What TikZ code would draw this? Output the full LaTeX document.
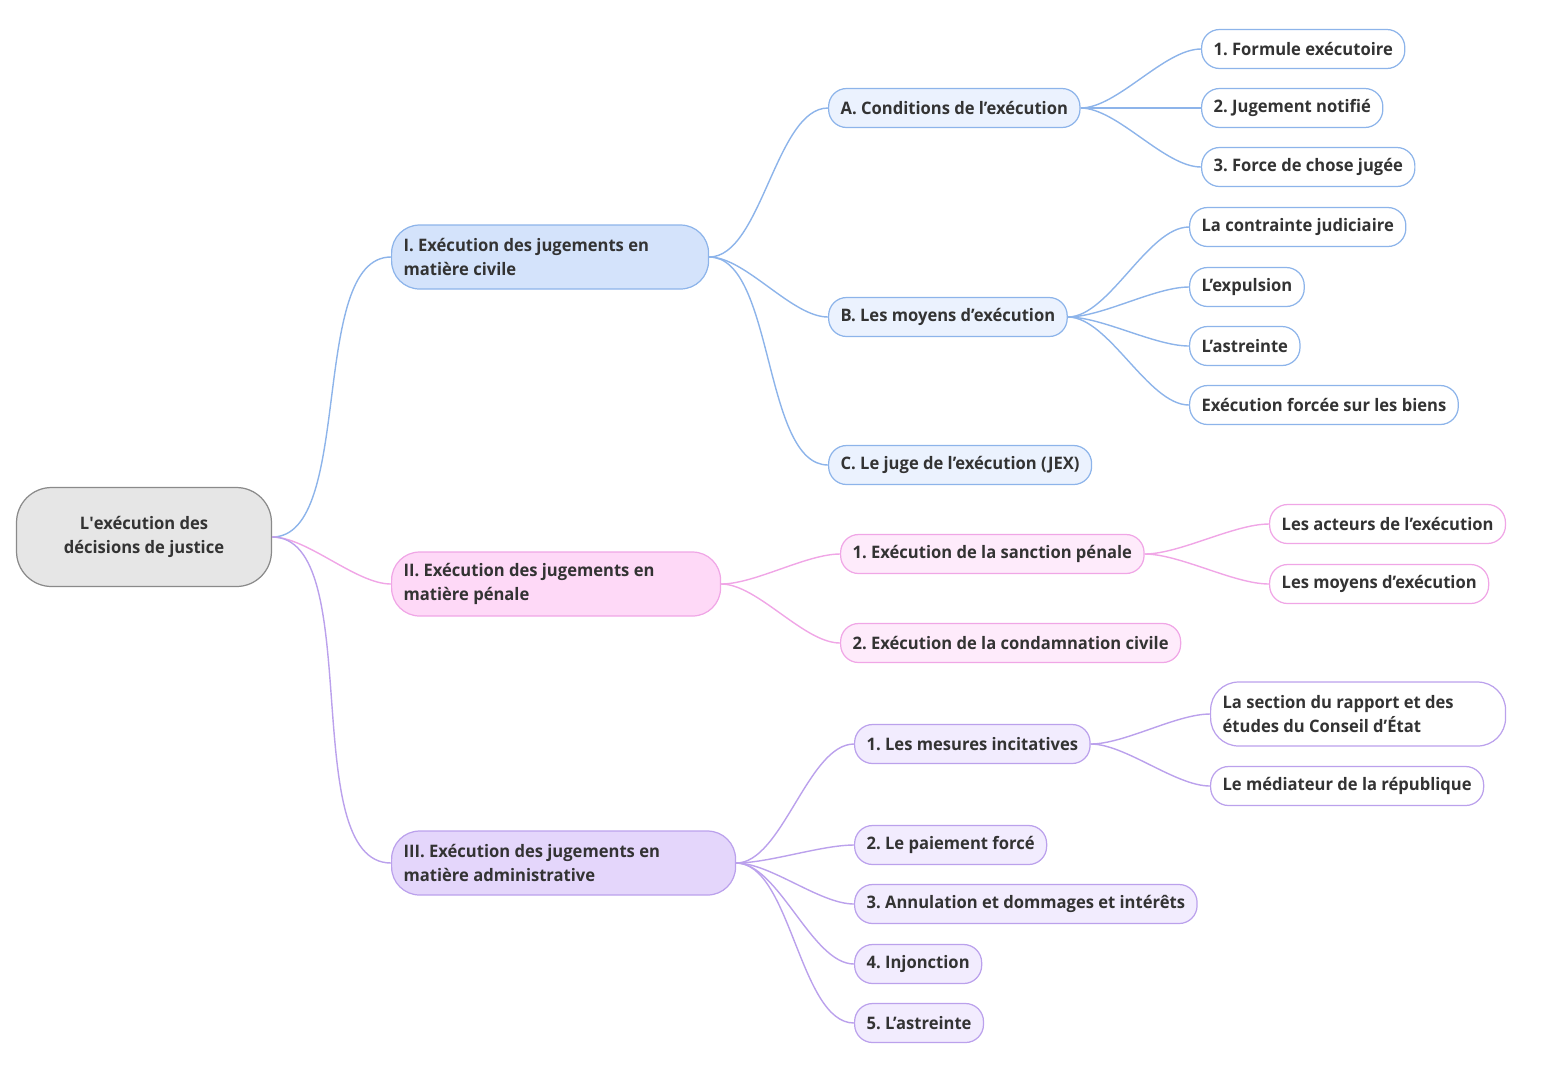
\documentclass[tikz,border=0pt]{standalone}
\usepackage{fontspec}
\setmainfont{Open Sans}[FakeStretch=0.963]
\usepackage{xcolor}
\usetikzlibrary{calc}
\frenchspacing

%colours of the branches
\definecolor{txt}{HTML}{333333}
\definecolor{rootfill}{HTML}{E6E6E6}
\definecolor{rootline}{HTML}{8A8A8A}
\definecolor{civline}{HTML}{8DB4EA}
\definecolor{civfillA}{HTML}{D4E3FB}
\definecolor{civfillB}{HTML}{EBF2FE}
\definecolor{penline}{HTML}{F0A6E6}
\definecolor{penfillA}{HTML}{FED9F7}
\definecolor{penfillB}{HTML}{FEEBFB}
\definecolor{admline}{HTML}{BBA1EC}
\definecolor{admfillA}{HTML}{E4D6FB}
\definecolor{admfillB}{HTML}{F2ECFE}

\begin{document}
\begin{tikzpicture}[x=0.02cm, y=-0.02cm,
		every node/.style = {font=\fontsize{9.8}{13.6}\selectfont\bfseries, text=txt},
		box/.style = {draw, line width=0.7pt, rounded corners=0.36cm, minimum height=0.78cm, inner xsep=0.24cm, anchor=west},
		bigbox/.style = {box, rounded corners=0.56cm, minimum height=1.28cm, align=flush left},
		link/.style = {line width=0.8pt, out=0, in=180, looseness=0.7}]
		
		%frame of the page
		\useasboundingbox (0,0) rectangle (1561,1090);
		
		%root
		\node [draw=rootline, fill=rootfill, line width=0.7pt, rounded corners=0.7cm, minimum width=5.1cm, minimum height=1.98cm, align=center] (root) at (144,537) {L\textquotesingle exécution des\\décisions de justice};
		
		%first level
		\node [bigbox, draw=civline, fill=civfillA, text width=5.86cm] (civ) at (391,257) {I. Exécution des jugements en\\matière civile};
		\node [bigbox, draw=penline, fill=penfillA, text width=6.1cm] (pen) at (391,584) {II. Exécution des jugements en\\matière pénale};
		\node [bigbox, draw=admline, fill=admfillA, text width=6.4cm] (adm) at (391,863) {III. Exécution des jugements en\\matière administrative};
		
		\draw [link, civline] (root.east) to (civ.west);
		\draw [link, penline] (root.east) to (pen.west);
		\draw [link, admline] (root.east) to (adm.west);
		
		%civil branch
		\node [box, draw=civline, fill=civfillB] (civA) at (828,108) {A. Conditions de l’exécution};
		\node [box, draw=civline, fill=civfillB] (civB) at (828,317) {B. Les moyens d’exécution};
		\node [box, draw=civline, fill=civfillB] (civC) at (828,465) {C. Le juge de l’exécution (JEX)};
		
		\draw [link, civline] (civ.east) to (civA.west);
		\draw [link, civline] (civ.east) to (civB.west);
		\draw [link, civline] (civ.east) to (civC.west);
		
		\node [box, draw=civline, fill=white] (civA1) at (1201,49) {1. Formule exécutoire};
		\node [box, draw=civline, fill=white] (civA2) at (1201,108) {2. Jugement notifié};
		\node [box, draw=civline, fill=white] (civA3) at (1201,167) {3. Force de chose jugée};
		
		\draw [link, civline] (civA.east) to (civA1.west);
		\draw [link, civline] (civA.east) to (civA2.west);
		\draw [link, civline] (civA.east) to (civA3.west);
		
		\node [box, draw=civline, fill=white] (civB1) at (1189,227) {La contrainte judiciaire};
		\node [box, draw=civline, fill=white] (civB2) at (1189,287) {L’expulsion};
		\node [box, draw=civline, fill=white] (civB3) at (1189,346) {L’astreinte};
		\node [box, draw=civline, fill=white] (civB4) at (1189,405) {Exécution forcée sur les biens};
		
		\draw [link, civline] (civB.east) to (civB1.west);
		\draw [link, civline] (civB.east) to (civB2.west);
		\draw [link, civline] (civB.east) to (civB3.west);
		\draw [link, civline] (civB.east) to (civB4.west);
		
		%penal branch
		\node [box, draw=penline, fill=penfillB] (pen1) at (840,554) {1. Exécution de la sanction pénale};
		\node [box, draw=penline, fill=penfillB] (pen2) at (840,643) {2. Exécution de la condamnation civile};
		
		\draw [link, penline] (pen.east) to (pen1.west);
		\draw [link, penline] (pen.east) to (pen2.west);
		
		\node [box, draw=penline, fill=white] (pen11) at (1269,524) {Les acteurs de l’exécution};
		\node [box, draw=penline, fill=white] (pen12) at (1269,584) {Les moyens d’exécution};
		
		\draw [link, penline] (pen1.east) to (pen11.west);
		\draw [link, penline] (pen1.east) to (pen12.west);
		
		%administrative branch
		\node [box, draw=admline, fill=admfillB] (adm1) at (854,744) {1. Les mesures incitatives};
		\node [box, draw=admline, fill=admfillB] (adm2) at (854,845) {2. Le paiement forcé};
		\node [box, draw=admline, fill=admfillB] (adm3) at (854,904) {3. Annulation et dommages et intérêts};
		\node [box, draw=admline, fill=admfillB] (adm4) at (854,964) {4. Injonction};
		\node [box, draw=admline, fill=admfillB] (adm5) at (854,1023) {5. L’astreinte};
		
		\draw [link, admline] (adm.east) to (adm1.west);
		\draw [link, admline] (adm.east) to (adm2.west);
		\draw [link, admline] (adm.east) to (adm3.west);
		\draw [link, admline] (adm.east) to (adm4.west);
		\draw [link, admline] (adm.east) to (adm5.west);
		
		\node [bigbox, draw=admline, fill=white, text width=5.42cm] (adm11) at (1210,714) {La section du rapport et des\\études du Conseil d’État};
		\node [box, draw=admline, fill=white] (adm12) at (1210,786) {Le médiateur de la république};
		
		\draw [link, admline] (adm1.east) to (adm11.west);
		\draw [link, admline] (adm1.east) to (adm12.west);
	\end{tikzpicture}
\end{document}
